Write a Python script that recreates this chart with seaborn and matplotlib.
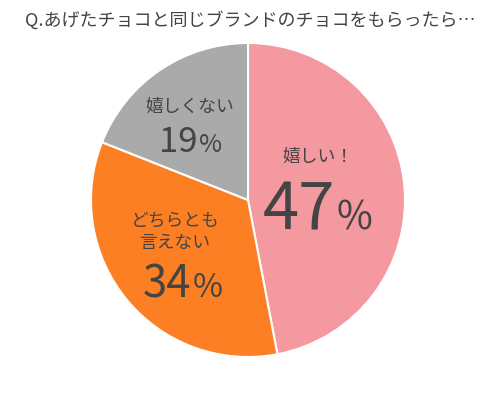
import matplotlib
matplotlib.use("Agg")
import matplotlib.pyplot as plt
import seaborn as sns

# --- Data ---
TITLE = "Q.あげたチョコと同じブランドのチョコをもらったら…"
labels = ["嬉しい！", "どちらとも\n言えない", "嬉しくない"]
shares = [47, 34, 19]
colors = ["#F4999F", "#FD7F23", "#AAAAAA"]

# label layout in pixels: (text center x, text center y, number/% split x, baseline y)
label_pos = [(318, 157, 335, 229), (175, 232, 191, 297), (190, 107, 197, 152)]
num_size = [47, 31.5, 25]
pct_size = [28, 23.5, 18]
TEXT_COLOR = "#444444"

sns.set_theme(style="white")
plt.rcParams["font.family"] = ["Noto Sans CJK JP", "DejaVu Sans"]

W, H = 500, 396
CX, CY, R = 248, 200, 157
fig = plt.figure(figsize=(W / 100, H / 100), dpi=100)
ax = fig.add_axes([(CX - R) / W, (H - CY - R) / H, 2 * R / W, 2 * R / H])
ax.pie(shares, colors=colors, startangle=90, counterclock=False,
       wedgeprops=dict(edgecolor="white", linewidth=1.5))
ax.set_xlim(-1, 1)
ax.set_ylim(-1, 1)
ax.set_aspect("equal")
ax.axis("off")


def px(x, y):
    return (x - CX) / R, (CY - y) / R


for lab, share, (tx, ty, sx, by), ns, ps in zip(labels, shares, label_pos, num_size, pct_size):
    ax.text(*px(tx, ty), lab, ha="center", va="center", fontsize=12.8,
            color=TEXT_COLOR, linespacing=1.3)
    ax.text(*px(sx, by), str(share), ha="right", va="baseline", fontsize=ns,
            color=TEXT_COLOR)
    ax.text(*px(sx + 2, by), "%", ha="left", va="baseline", fontsize=ps,
            color=TEXT_COLOR)

fig.text(250 / W, 1 - 20 / H, TITLE, ha="center", va="center", fontsize=13,
         color=TEXT_COLOR)

fig.savefig("out.png", dpi=100)
